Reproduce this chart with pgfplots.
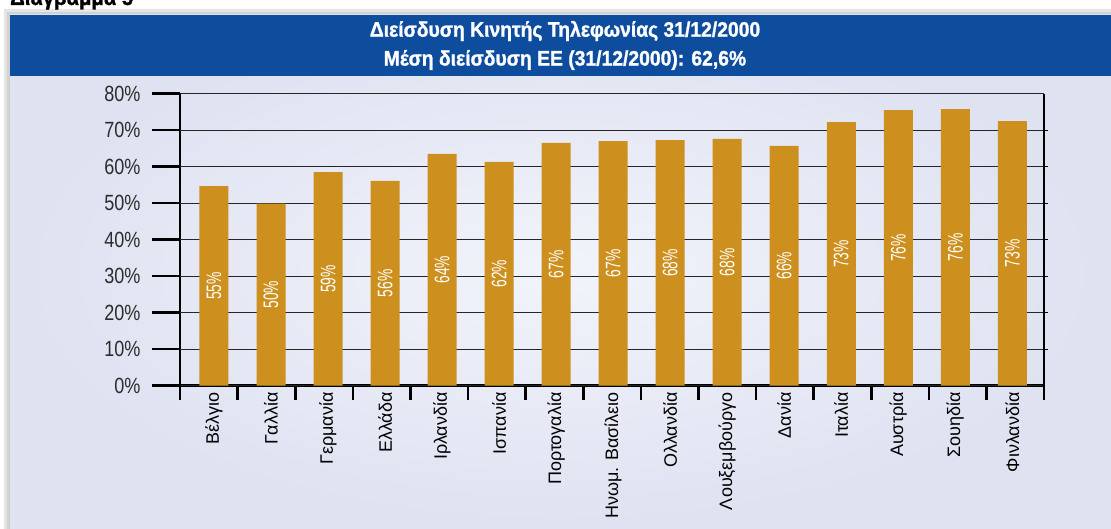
\documentclass[border=0pt]{standalone}
\usepackage{pgfplots}
\pgfplotsset{compat=1.18}
\usepackage{pgfplotstable}
\usepackage{fontspec}
\setmainfont{Liberation Sans}[FakeStretch=0.82]
\newfontfamily\plainfont{Liberation Sans}
\newfontfamily\valfont{Liberation Sans}[FakeStretch=0.66]
\newfontfamily\titlefont{Liberation Sans}[FakeStretch=0.92, FakeBold=1.2]
\definecolor{barc}{RGB}{205,143,30}
\definecolor{titleblue}{RGB}{14,76,158}
\definecolor{panelbg}{RGB}{222,226,241}
\definecolor{panelin}{RGB}{242,244,251}
\definecolor{ticktext}{RGB}{45,45,45}
\pgfplotstableread{
x v lab
0.09 54.7 55
1.08 49.9 50
2.07 58.5 59
3.06 56.1 56
4.05 63.5 64
5.04 61.3 62
6.03 66.5 67
7.02 67.0 67
8.01 67.3 68
9.00 67.6 68
9.99 65.7 66
10.98 72.2 73
11.97 75.5 76
12.96 75.8 76
13.95 72.5 73
}\data
\begin{document}
\begin{tikzpicture}[x=1pt,y=1pt]
\useasboundingbox (0,0) rectangle (1111,529);
\fill[white] (0,0) rectangle (1111,529);
\fill[black!10] (4,0) rectangle (1111,520);
\fill[black!18] (7,0) rectangle (1111,517);
\shade[inner color=panelin, outer color=panelbg] (10,0) rectangle (1111,514);
\fill[titleblue] (10,453) rectangle (1111,514);
\node[white, font=\titlefont\fontsize{21}{21}\selectfont\bfseries] at (565,498) {Διείσδυση Κινητής Τηλεφωνίας 31/12/2000};
\node[white, font=\titlefont\fontsize{21}{21}\selectfont\bfseries] at (565,469) {Μέση διείσδυση ΕΕ (31/12/2000): 62,6\%};
\node[anchor=base west, inner sep=0pt, font=\titlefont\fontsize{22}{22}\selectfont\bfseries] at (10,524) {Διάγραμμα 5};
\begin{axis}[
  scale only axis, width=864pt, height=292pt,
  at={(180pt,143.3pt)}, anchor=south west,
  xmin=-0.5, xmax=14.5, ymin=0, ymax=80,
  axis x line*=bottom, axis y line*=left,
  ytick pos=left, xtick pos=bottom,
  axis line style={line width=2.6pt},
  /pgf/number format/assume math mode=true,
  ytick={0,10,...,80},
  yticklabel={\pgfmathprintnumber{\tick}\%},
  yticklabel style={font=\fontsize{22}{22}\selectfont, text=ticktext, xshift=-8pt},
  xtick=data,
  xticklabels={Βέλγιο,Γαλλία,Γερμανία,Ελλάδα,Ιρλανδία,Ισπανία,Πορτογαλία,Ηνωμ. Βασίλειο,Ολλανδία,Λουξεμβούργο,Δανία,Ιταλία,Αυστρία,Σουηδία,Φινλανδία},
  xticklabel style={rotate=90, anchor=east, font=\plainfont\fontsize{18}{18}\selectfont, text=black},
  xticklabel shift=-25pt,
  minor xtick={-0.5,0.5,...,14.5},
  tick align=outside,
  major tick length=28pt,
  minor tick length=14pt,
  every major x tick/.style={draw=none},
  every minor tick/.style={line width=2.6pt, black},
  every major tick/.append style={line width=2.6pt, black},
  clip=false,
]
\pgfplotsinvokeforeach{0,10,...,80}{\draw[line width=0.9pt, black!85] (axis cs:-0.5,#1) -- (axis cs:14.5,#1);}
\addplot[ybar, bar width=29pt, fill=barc, draw=none] table[x=x, y=v] {\data};
\addplot[draw=none, mark=none,
  nodes near coords={\pgfmathprintnumber{\pgfplotspointmeta}\%},
  point meta=\thisrow{lab},
  nodes near coords style={rotate=90, anchor=center, text=white, font=\valfont\fontsize{21}{21}\selectfont}]
  table[x=x, y expr=\thisrow{v}/2] {\data};
\draw[line width=2.6pt] (rel axis cs:1,0) -- (rel axis cs:1,1);
\pgfplotsinvokeforeach{10,20,...,70}{\draw[line width=1pt] (axis cs:14.5,#1) -- ([xshift=4pt]axis cs:14.5,#1);}
\end{axis}
\end{tikzpicture}
\end{document}
